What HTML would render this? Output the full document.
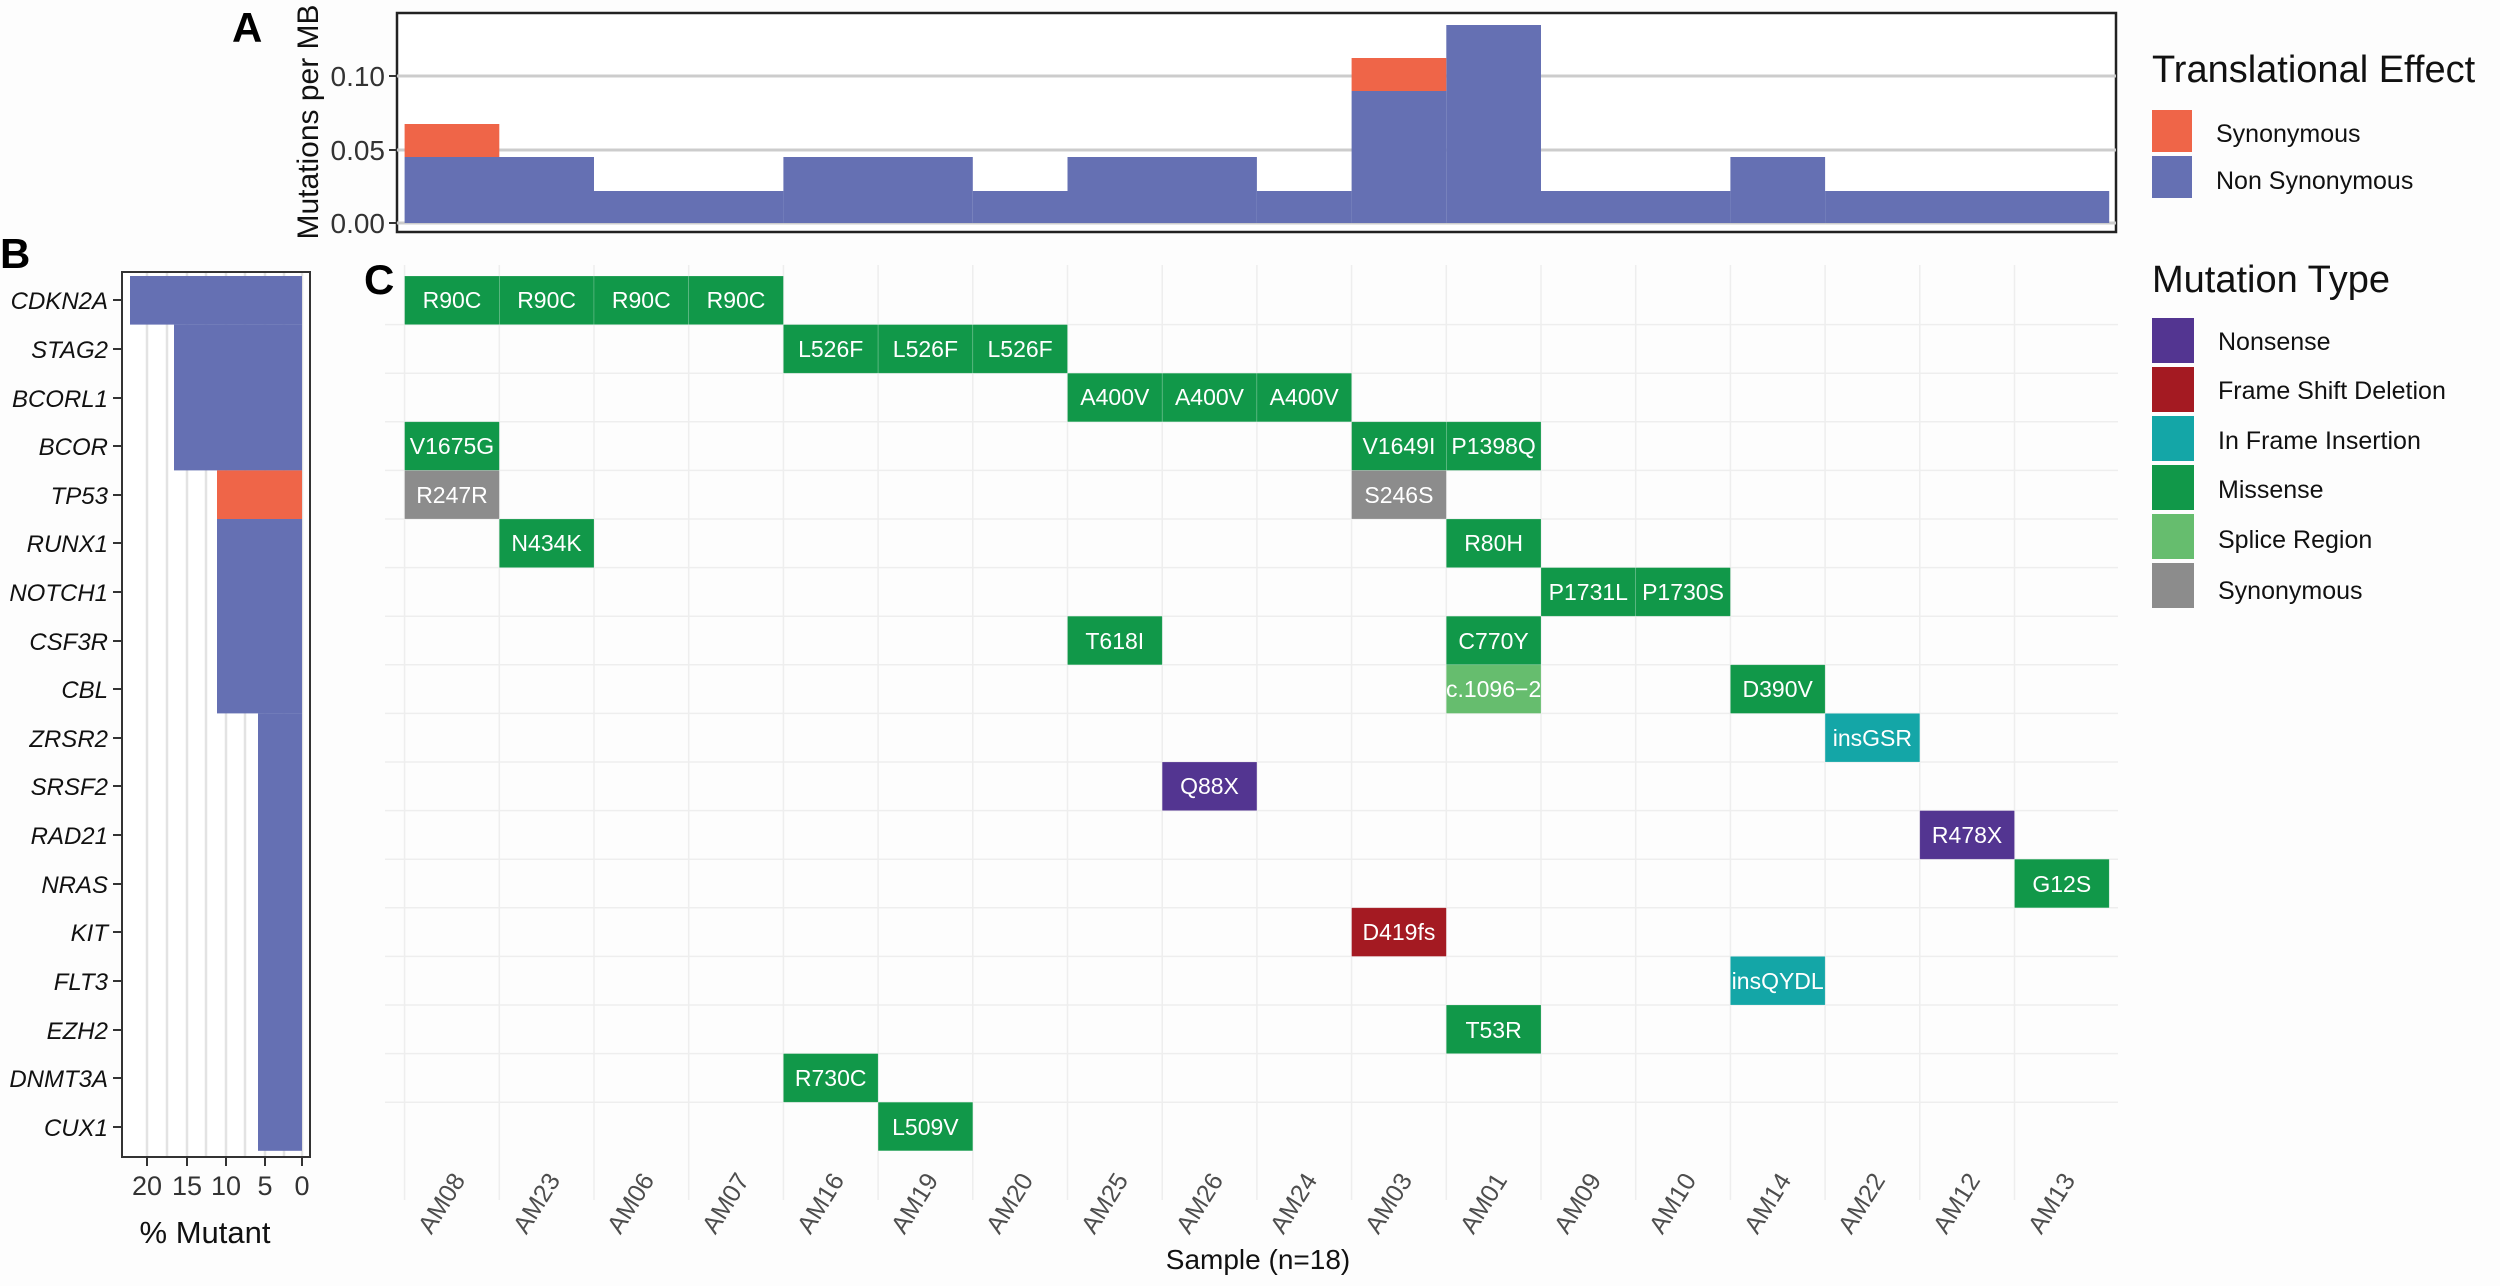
<!DOCTYPE html>
<html><head><meta charset="utf-8"><style>
html,body{margin:0;padding:0;background:#fff;}
svg{display:block;font-family:"Liberation Sans",Arial,sans-serif;}
</style></head><body>
<svg width="2500" height="1286" viewBox="0 0 2500 1286" xmlns="http://www.w3.org/2000/svg">
<rect width="2500" height="1286" fill="#fdfdfd"/>
<!-- Panel labels -->
<text x="232" y="42" font-size="42" font-weight="bold">A</text>
<text x="0" y="268" font-size="42" font-weight="bold">B</text>
<text x="364" y="294" font-size="42" font-weight="bold">C</text>

<!-- Panel A -->
<g id="A">
<rect x="397" y="13" width="1719" height="219" fill="#fff" stroke="#222" stroke-width="2.5"/>
<line x1="397" y1="150" x2="2116" y2="150" stroke="#ccc" stroke-width="3"/>
<line x1="397" y1="76" x2="2116" y2="76" stroke="#ccc" stroke-width="3"/>
<line x1="397" y1="223" x2="2116" y2="223" stroke="#ccc" stroke-width="3"/>
<g fill="#6570b3">
<rect x="404.6" y="157" width="189.4" height="66"/>
<rect x="594" y="191" width="189.4" height="32"/>
<rect x="783.4" y="157" width="189.4" height="66"/>
<rect x="972.8" y="191" width="94.7" height="32"/>
<rect x="1067.5" y="157" width="189.4" height="66"/>
<rect x="1256.9" y="191" width="94.7" height="32"/>
<rect x="1351.6" y="91" width="94.7" height="132"/>
<rect x="1446.3" y="25" width="94.7" height="198"/>
<rect x="1541" y="191" width="189.4" height="32"/>
<rect x="1730.4" y="157" width="94.7" height="66"/>
<rect x="1825.1" y="191" width="284.1" height="32"/>
</g>
<rect x="404.6" y="124" width="94.7" height="33" fill="#ef6548"/>
<rect x="1351.6" y="58" width="94.7" height="33" fill="#ef6548"/>
<g stroke="#333" stroke-width="2"><line x1="389" y1="76" x2="397" y2="76"/><line x1="389" y1="150" x2="397" y2="150"/><line x1="389" y1="223" x2="397" y2="223"/></g>
<g font-size="28" fill="#333" text-anchor="end"><text x="385" y="86">0.10</text><text x="385" y="160">0.05</text><text x="385" y="233">0.00</text></g>
<text transform="translate(318,122) rotate(-90)" font-size="30" text-anchor="middle" fill="#111">Mutations per MB</text>
</g>

<!-- Legends -->
<text x="2152" y="82" font-size="38" fill="#111">Translational Effect</text>
<rect x="2152" y="110" width="40" height="42" fill="#ef6548"/>
<rect x="2152" y="156" width="40" height="42" fill="#6570b3"/>
<g font-size="25" fill="#111"><text x="2216" y="142">Synonymous</text><text x="2216" y="189">Non Synonymous</text></g>
<text x="2152" y="292" font-size="38" fill="#111">Mutation Type</text>
<rect x="2152" y="318" width="42" height="45" fill="#533591"/>
<rect x="2152" y="367" width="42" height="45" fill="#a41a22"/>
<rect x="2152" y="416" width="42" height="45" fill="#14a6a7"/>
<rect x="2152" y="465" width="42" height="45" fill="#119849"/>
<rect x="2152" y="514" width="42" height="45" fill="#66bd6e"/>
<rect x="2152" y="563" width="42" height="45" fill="#8c8c8c"/>
<g font-size="25" fill="#111">
<text x="2218" y="350">Nonsense</text><text x="2218" y="399">Frame Shift Deletion</text><text x="2218" y="449">In Frame Insertion</text>
<text x="2218" y="498">Missense</text><text x="2218" y="548">Splice Region</text><text x="2218" y="599">Synonymous</text></g>

<!-- Panel B -->
<g id="B">
<rect x="122" y="272" width="188" height="885" fill="#fff" stroke="#333" stroke-width="2"/>
<g stroke="#e3e3e3" stroke-width="2.5">
<line x1="147" y1="273" x2="147" y2="1156"/><line x1="167" y1="273" x2="167" y2="1156"/><line x1="187" y1="273" x2="187" y2="1156"/><line x1="206" y1="273" x2="206" y2="1156"/><line x1="226" y1="273" x2="226" y2="1156"/><line x1="245" y1="273" x2="245" y2="1156"/><line x1="265" y1="273" x2="265" y2="1156"/><line x1="284" y1="273" x2="284" y2="1156"/><line x1="302" y1="273" x2="302" y2="1156"/>
</g>
<g fill="#6570b3">
<rect x="130" y="276" width="172" height="48.6"/>
<rect x="174" y="324.6" width="128" height="145.8"/>
<rect x="217" y="519" width="85" height="194.4"/>
<rect x="258" y="713.4" width="44" height="437.4"/>
</g>
<rect x="217" y="470.4" width="85" height="48.6" fill="#ef6548"/>
<g font-size="24" font-style="italic" fill="#111" text-anchor="end">
<text x="108" y="309">CDKN2A</text><text x="108" y="358">STAG2</text><text x="108" y="407">BCORL1</text><text x="108" y="455">BCOR</text><text x="108" y="504">TP53</text><text x="108" y="552">RUNX1</text><text x="108" y="601">NOTCH1</text><text x="108" y="650">CSF3R</text><text x="108" y="698">CBL</text><text x="108" y="747">ZRSR2</text><text x="108" y="795">SRSF2</text><text x="108" y="844">RAD21</text><text x="108" y="893">NRAS</text><text x="108" y="941">KIT</text><text x="108" y="990">FLT3</text><text x="108" y="1039">EZH2</text><text x="108" y="1087">DNMT3A</text><text x="108" y="1136">CUX1</text>
</g>
<g stroke="#333" stroke-width="2">
<line x1="113" y1="300" x2="122" y2="300"/><line x1="113" y1="349" x2="122" y2="349"/><line x1="113" y1="398" x2="122" y2="398"/><line x1="113" y1="446" x2="122" y2="446"/><line x1="113" y1="495" x2="122" y2="495"/><line x1="113" y1="543" x2="122" y2="543"/><line x1="113" y1="592" x2="122" y2="592"/><line x1="113" y1="641" x2="122" y2="641"/><line x1="113" y1="689" x2="122" y2="689"/><line x1="113" y1="738" x2="122" y2="738"/><line x1="113" y1="786" x2="122" y2="786"/><line x1="113" y1="835" x2="122" y2="835"/><line x1="113" y1="884" x2="122" y2="884"/><line x1="113" y1="932" x2="122" y2="932"/><line x1="113" y1="981" x2="122" y2="981"/><line x1="113" y1="1030" x2="122" y2="1030"/><line x1="113" y1="1078" x2="122" y2="1078"/><line x1="113" y1="1127" x2="122" y2="1127"/>
<line x1="147" y1="1157" x2="147" y2="1166"/><line x1="187" y1="1157" x2="187" y2="1166"/><line x1="226" y1="1157" x2="226" y2="1166"/><line x1="265" y1="1157" x2="265" y2="1166"/><line x1="302" y1="1157" x2="302" y2="1166"/>
</g>
<g font-size="27" fill="#333" text-anchor="middle"><text x="147" y="1195">20</text><text x="187" y="1195">15</text><text x="226" y="1195">10</text><text x="265" y="1195">5</text><text x="302" y="1195">0</text></g>
<text x="205" y="1243" font-size="31" text-anchor="middle" fill="#111">% Mutant</text>
</g>

<!-- Panel C grid -->
<g stroke="#eeeeee" stroke-width="1.5">
<line x1="385" y1="324.6" x2="2118" y2="324.6"/><line x1="385" y1="373.2" x2="2118" y2="373.2"/><line x1="385" y1="421.8" x2="2118" y2="421.8"/><line x1="385" y1="470.4" x2="2118" y2="470.4"/><line x1="385" y1="519" x2="2118" y2="519"/><line x1="385" y1="567.6" x2="2118" y2="567.6"/><line x1="385" y1="616.2" x2="2118" y2="616.2"/><line x1="385" y1="664.8" x2="2118" y2="664.8"/><line x1="385" y1="713.4" x2="2118" y2="713.4"/><line x1="385" y1="762" x2="2118" y2="762"/><line x1="385" y1="810.6" x2="2118" y2="810.6"/><line x1="385" y1="859.2" x2="2118" y2="859.2"/><line x1="385" y1="907.8" x2="2118" y2="907.8"/><line x1="385" y1="956.4" x2="2118" y2="956.4"/><line x1="385" y1="1005" x2="2118" y2="1005"/><line x1="385" y1="1053.6" x2="2118" y2="1053.6"/><line x1="385" y1="1102.2" x2="2118" y2="1102.2"/>
<line x1="404.6" y1="265" x2="404.6" y2="1200"/><line x1="499.3" y1="265" x2="499.3" y2="1200"/><line x1="594" y1="265" x2="594" y2="1200"/><line x1="688.7" y1="265" x2="688.7" y2="1200"/><line x1="783.4" y1="265" x2="783.4" y2="1200"/><line x1="878.1" y1="265" x2="878.1" y2="1200"/><line x1="972.8" y1="265" x2="972.8" y2="1200"/><line x1="1067.5" y1="265" x2="1067.5" y2="1200"/><line x1="1162.2" y1="265" x2="1162.2" y2="1200"/><line x1="1256.9" y1="265" x2="1256.9" y2="1200"/><line x1="1351.6" y1="265" x2="1351.6" y2="1200"/><line x1="1446.3" y1="265" x2="1446.3" y2="1200"/><line x1="1541" y1="265" x2="1541" y2="1200"/><line x1="1635.7" y1="265" x2="1635.7" y2="1200"/><line x1="1730.4" y1="265" x2="1730.4" y2="1200"/><line x1="1825.1" y1="265" x2="1825.1" y2="1200"/><line x1="1919.8" y1="265" x2="1919.8" y2="1200"/><line x1="2014.5" y1="265" x2="2014.5" y2="1200"/>
</g>

<!-- Tiles -->
<g stroke="#ffffff" stroke-width="0.6" stroke-opacity="0.3">
<rect x="404.6" y="276" width="94.7" height="48.6" fill="#119849"/>
<rect x="499.3" y="276" width="94.7" height="48.6" fill="#119849"/>
<rect x="594" y="276" width="94.7" height="48.6" fill="#119849"/>
<rect x="688.7" y="276" width="94.7" height="48.6" fill="#119849"/>
<rect x="783.4" y="324.6" width="94.7" height="48.6" fill="#119849"/>
<rect x="878.1" y="324.6" width="94.7" height="48.6" fill="#119849"/>
<rect x="972.8" y="324.6" width="94.7" height="48.6" fill="#119849"/>
<rect x="1067.5" y="373.2" width="94.7" height="48.6" fill="#119849"/>
<rect x="1162.2" y="373.2" width="94.7" height="48.6" fill="#119849"/>
<rect x="1256.9" y="373.2" width="94.7" height="48.6" fill="#119849"/>
<rect x="404.6" y="421.8" width="94.7" height="48.6" fill="#119849"/>
<rect x="1351.6" y="421.8" width="94.7" height="48.6" fill="#119849"/>
<rect x="1446.3" y="421.8" width="94.7" height="48.6" fill="#119849"/>
<rect x="404.6" y="470.4" width="94.7" height="48.6" fill="#8c8c8c"/>
<rect x="1351.6" y="470.4" width="94.7" height="48.6" fill="#8c8c8c"/>
<rect x="499.3" y="519" width="94.7" height="48.6" fill="#119849"/>
<rect x="1446.3" y="519" width="94.7" height="48.6" fill="#119849"/>
<rect x="1541" y="567.6" width="94.7" height="48.6" fill="#119849"/>
<rect x="1635.7" y="567.6" width="94.7" height="48.6" fill="#119849"/>
<rect x="1067.5" y="616.2" width="94.7" height="48.6" fill="#119849"/>
<rect x="1446.3" y="616.2" width="94.7" height="48.6" fill="#119849"/>
<rect x="1446.3" y="664.8" width="94.7" height="48.6" fill="#66bd6e"/>
<rect x="1730.4" y="664.8" width="94.7" height="48.6" fill="#119849"/>
<rect x="1825.1" y="713.4" width="94.7" height="48.6" fill="#14a6a7"/>
<rect x="1162.2" y="762" width="94.7" height="48.6" fill="#533591"/>
<rect x="1919.8" y="810.6" width="94.7" height="48.6" fill="#533591"/>
<rect x="2014.5" y="859.2" width="94.7" height="48.6" fill="#119849"/>
<rect x="1351.6" y="907.8" width="94.7" height="48.6" fill="#a41a22"/>
<rect x="1730.4" y="956.4" width="94.7" height="48.6" fill="#14a6a7"/>
<rect x="1446.3" y="1005" width="94.7" height="48.6" fill="#119849"/>
<rect x="783.4" y="1053.6" width="94.7" height="48.6" fill="#119849"/>
<rect x="878.1" y="1102.2" width="94.7" height="48.6" fill="#119849"/>
</g>
<g font-size="23" fill="#fff" text-anchor="middle">
<text x="452" y="308">R90C</text><text x="546.6" y="308">R90C</text><text x="641.3" y="308">R90C</text><text x="736" y="308">R90C</text>
<text x="830.7" y="357">L526F</text><text x="925.4" y="357">L526F</text><text x="1020.1" y="357">L526F</text>
<text x="1114.8" y="405">A400V</text><text x="1209.5" y="405">A400V</text><text x="1304.2" y="405">A400V</text>
<text x="452" y="454">V1675G</text><text x="1398.9" y="454">V1649I</text><text x="1493.6" y="454">P1398Q</text>
<text x="452" y="503">R247R</text><text x="1398.9" y="503">S246S</text>
<text x="546.6" y="551">N434K</text><text x="1493.6" y="551">R80H</text>
<text x="1588.3" y="600">P1731L</text><text x="1683" y="600">P1730S</text>
<text x="1114.8" y="649">T618I</text><text x="1493.6" y="649">C770Y</text>
<text x="1493.6" y="697">c.1096−2</text><text x="1777.7" y="697">D390V</text>
<text x="1872.4" y="746">insGSR</text>
<text x="1209.5" y="794">Q88X</text>
<text x="1967.1" y="843">R478X</text>
<text x="2061.8" y="892">G12S</text>
<text x="1398.9" y="940">D419fs</text>
<text x="1777.7" y="989">insQYDL</text>
<text x="1493.6" y="1038">T53R</text>
<text x="830.7" y="1086">R730C</text>
<text x="925.4" y="1135">L509V</text>
</g>

<!-- X labels -->
<g font-size="25" fill="#4d4d4d" text-anchor="end">
<text transform="translate(466,1180) rotate(-58)">AM08</text>
<text transform="translate(561,1180) rotate(-58)">AM23</text>
<text transform="translate(655,1180) rotate(-58)">AM06</text>
<text transform="translate(750,1180) rotate(-58)">AM07</text>
<text transform="translate(845,1180) rotate(-58)">AM16</text>
<text transform="translate(939,1180) rotate(-58)">AM19</text>
<text transform="translate(1034,1180) rotate(-58)">AM20</text>
<text transform="translate(1129,1180) rotate(-58)">AM25</text>
<text transform="translate(1224,1180) rotate(-58)">AM26</text>
<text transform="translate(1318,1180) rotate(-58)">AM24</text>
<text transform="translate(1413,1180) rotate(-58)">AM03</text>
<text transform="translate(1508,1180) rotate(-58)">AM01</text>
<text transform="translate(1602,1180) rotate(-58)">AM09</text>
<text transform="translate(1697,1180) rotate(-58)">AM10</text>
<text transform="translate(1792,1180) rotate(-58)">AM14</text>
<text transform="translate(1886,1180) rotate(-58)">AM22</text>
<text transform="translate(1981,1180) rotate(-58)">AM12</text>
<text transform="translate(2076,1180) rotate(-58)">AM13</text>
</g>
<text x="1258" y="1269" font-size="28" text-anchor="middle" fill="#111">Sample (n=18)</text>
</svg>
</body></html>
